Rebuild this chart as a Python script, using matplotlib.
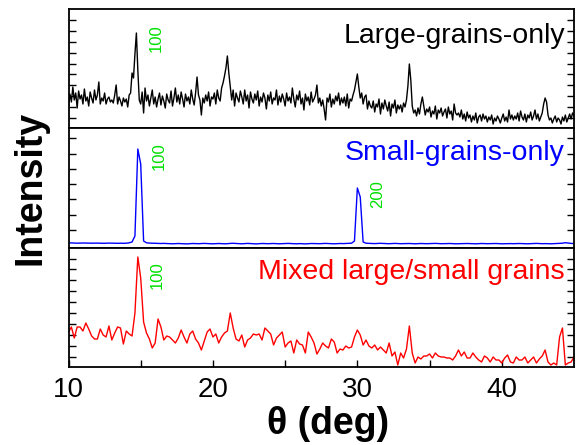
import numpy as np
import matplotlib
matplotlib.use("Agg")
import matplotlib.pyplot as plt

plt.rcParams['font.family'] = ['Liberation Sans', 'DejaVu Sans']

# --- data (intensity in arbitrary units) ---
theta_large = np.round(np.arange(10.0, 45.01, 0.1), 2)
large_only = [
    22, 34, 26, 41, 28, 35, 20, 37, 29, 33,
    24, 39, 27, 31, 22, 36, 30, 25, 38, 28,
    33, 46, 24, 30, 27, 35, 24, 29, 31, 26,
    28, 25, 33, 43, 24, 31, 27, 22, 30, 26,
    29, 21, 33, 35, 55, 50, 74, 95, 58, 28,
    24, 36, 15, 40, 27, 33, 22, 30, 38, 24,
    31, 21, 29, 35, 23, 32, 27, 20, 34, 28,
    25, 37, 22, 30, 40, 26, 33, 24, 36, 29,
    21, 34, 27, 31, 24, 38, 29, 23, 35, 51,
    33, 28, 13, 30, 25, 33, 27, 36, 22, 31,
    29, 35, 24, 38, 30, 27, 40, 45, 52, 60,
    72, 55, 42, 28, 38, 22, 35, 30, 26, 37,
    31, 24, 38, 27, 33, 20, 36, 29, 25, 34,
    28, 37, 22, 31, 26, 35, 30, 19, 33, 27,
    36, 24, 30, 28, 38, 23, 32, 26, 34, 29,
    22, 35, 27, 31, 25, 40, 29, 21, 33, 28,
    37, 24, 30, 18, 34, 27, 31, 23, 36, 26,
    29, 33, 43, 25, 30, 22, 28, 19, 8, 30,
    26, 34, 21, 29, 24, 32, 27, 35, 23, 30,
    25, 31, 22, 34, 20, 29, 27, 33, 38, 46,
    54, 41, 30, 35, 24, 31, 33, 19, 27, 22,
    20, 27, 16, 24, 21, 29, 14, 25, 19, 28,
    22, 17, 26, 12, 24, 20, 28, 15, 23, 19,
    23, 16, 25, 21, 28, 42, 64, 48, 22, 15,
    18, 12, 20, 14, 24, 31, 22, 13, 19, 16,
    21, 11, 17, 14, 22, 9, 18, 15, 20, 12,
    16, 19, 10, 21, 14, 17, 8, 24, 15, 13,
    15, 11, 18, 9, 14, 7, 16, 10, 13, 6,
    12, 8, 15, 5, 11, 13, 7, 14, 9, 12,
    6, 11, 8, 13, 4, 10, 7, 12, 9, 5,
    10, 14, 7, 11, 6, 18, 9, 13, 8, 12,
    9, 15, 7, 17, 11, 8, 14, 6, 13, 10,
    16, 8, 12, 18, 9, 14, 7, 11, 15, 24,
    30, 26, 13, 8, 10, 5, 9, 12, 6, 10,
    8, 4, 11, 7, 13, 6, 10, 14, 9, 15,
    12,
]

theta = np.round(np.arange(10.0, 45.01, 0.2), 2)
small_only = [
    5.0, 5.1, 4.9, 4.8, 4.9,
    5.0, 4.9, 4.8, 4.8, 4.9,
    4.9, 4.8, 4.7, 4.8, 4.9,
    4.8, 4.7, 4.7, 4.8, 4.7,
    4.8, 5.2, 6.0, 12.0, 99.0,
    84.0, 7.0, 5.2, 4.9, 4.8,
    4.7, 4.6, 4.5, 4.6, 4.5,
    4.3, 4.2, 4.4, 4.5, 4.3,
    4.2, 4.1, 4.3, 4.5, 4.4,
    4.3, 4.5, 4.6, 4.4, 4.3,
    4.2, 4.4, 4.5, 4.3, 4.2,
    4.3, 4.6, 4.7, 4.5, 4.3,
    4.2, 4.4, 4.6, 4.4, 4.2,
    4.1, 4.3, 4.5, 4.4, 4.3,
    4.4, 4.5, 4.3, 4.2, 4.3,
    4.5, 4.6, 4.4, 4.3, 4.2,
    4.4, 4.3, 4.1, 4.3, 4.5,
    4.4, 4.2, 4.3, 4.5, 4.6,
    4.4, 4.3, 4.2, 4.4, 4.5,
    4.4, 4.5, 4.6, 4.8, 7.0,
    60.0, 51.0, 6.0, 4.8, 4.6,
    4.5, 4.4, 4.6, 4.7, 4.5,
    4.4, 4.3, 4.5, 4.6, 4.4,
    4.3, 4.4, 4.6, 4.5, 4.3,
    4.2, 4.4, 4.5, 4.4, 4.3,
    4.4, 4.5, 4.6, 4.4, 4.3,
    4.3, 4.4, 4.5, 4.3, 4.2,
    4.3, 4.5, 4.6, 4.5, 4.4,
    4.3, 4.2, 4.4, 4.5, 4.4,
    4.3, 4.4, 4.6, 4.5, 4.3,
    4.2, 4.3, 4.5, 4.4, 4.3,
    4.4, 4.5, 4.4, 4.3, 4.2,
    4.3, 4.5, 4.6, 4.4, 4.3,
    4.4, 4.3, 4.2, 4.4, 4.5,
    4.6, 4.8, 5.3, 4.9, 4.6,
    4.5,
]

mixed = [
    35, 40, 29, 40, 40,
    36, 44, 38, 31, 28,
    28, 38, 32, 30, 41,
    27, 34, 40, 39, 23,
    36, 33, 31, 54, 110,
    89, 45, 34, 28, 19,
    24, 48, 40, 27, 31,
    30, 27, 24, 29, 37,
    30, 24, 33, 36, 28,
    24, 17, 26, 35, 38,
    30, 33, 24, 30, 34,
    36, 54, 39, 28, 26,
    32, 20, 27, 29, 33,
    32, 33, 27, 39, 36,
    33, 22, 29, 32, 35,
    20, 24, 26, 14, 27,
    23, 22, 14, 35, 30,
    24, 13, 18, 24, 21,
    19, 28, 25, 14, 18,
    17, 21, 19, 20, 30,
    37, 32, 22, 27, 21,
    19, 22, 17, 20, 17,
    14, 24, 11, 15, 2,
    14, 9, 18, 41, 14,
    4, 10, 8, 11, 11,
    13, 9, 14, 11, 10,
    10, 9, 9, 7, 11,
    17, 11, 15, 9, 9,
    14, 10, 7, 5, 11,
    9, 5, 10, 7, 7,
    4, 9, 12, 5, 4,
    10, 7, 7, 10, 4,
    7, 10, 4, 8, 11,
    17, 5, 2, 4, 2,
    30, 39, 2, 4, 5,
    10,
]

panel_titles = ["Large-grains-only", "Small-grains-only", "Mixed large/small grains"]
panel_colors = ["black", "blue", "red"]
# green peak labels: (theta, height, text) per panel
peak_labels = [
    [(16.06, 76, "100")],
    [(16.3, 78, "100"), (31.43, 40, "200")],
    [(16.13, 78, "100")],
]
xtick_vals = [10, 15, 20, 25, 30, 35, 40]
xtick_text = ["10", "", "20", "", "30", "", "40"]

# --- figure ---
W, H = 577, 445
fig = plt.figure(figsize=(W / 100, H / 100), dpi=100)

left, right = 68.5, 574
panel_px = [(9, 128), (128, 248), (248, 367)]
ylims = [119, 120, 119]
ytick_start = [10, 18, 10.3]
ytick_step = [10.9, 15.3, 10.9]
series = [(theta_large, large_only), (theta, small_only), (theta, mixed)]
title_y = [0.714, 0.733, 0.739]

for i in range(3):
    top, bot = panel_px[i]
    ax = fig.add_axes([left / W, (H - bot) / H, (right - left) / W, (bot - top) / H])
    xs, ys = series[i]
    ax.plot(xs, ys, color=panel_colors[i], lw=1.0)
    ax.set_xlim(10, 45)
    ax.set_ylim(0, ylims[i])
    ax.set_yticks(np.arange(ytick_start[i], ylims[i], ytick_step[i]))
    ax.tick_params(axis='y', which='both', direction='in', length=5, width=1,
                   left=True, right=True, labelleft=False)
    for s in ax.spines.values():
        s.set_linewidth(1.3)
    if i < 2:
        ax.set_xticks([])
    else:
        ax.set_xticks(xtick_vals)
        ax.set_xticklabels(xtick_text)
        ax.tick_params(axis='x', direction='in', length=5, width=1,
                       labelsize=20, pad=7)
    ax.text(0.982, title_y[i], panel_titles[i], transform=ax.transAxes,
            ha='right', va='baseline', fontsize=20.5, color=panel_colors[i])
    for px, py, txt in peak_labels[i]:
        ax.text(px, py, txt, rotation=90, ha='center', va='bottom',
                fontsize=12, color='#00e000')

fig.text(0.052, 0.578, "Intensity", rotation=90, ha='center', va='center',
         fontsize=27, fontweight='bold')
fig.text(0.568, 0.048, "θ (deg)", ha='center', va='center',
         fontsize=27, fontweight='bold')

fig.savefig("out.png", dpi=100)
